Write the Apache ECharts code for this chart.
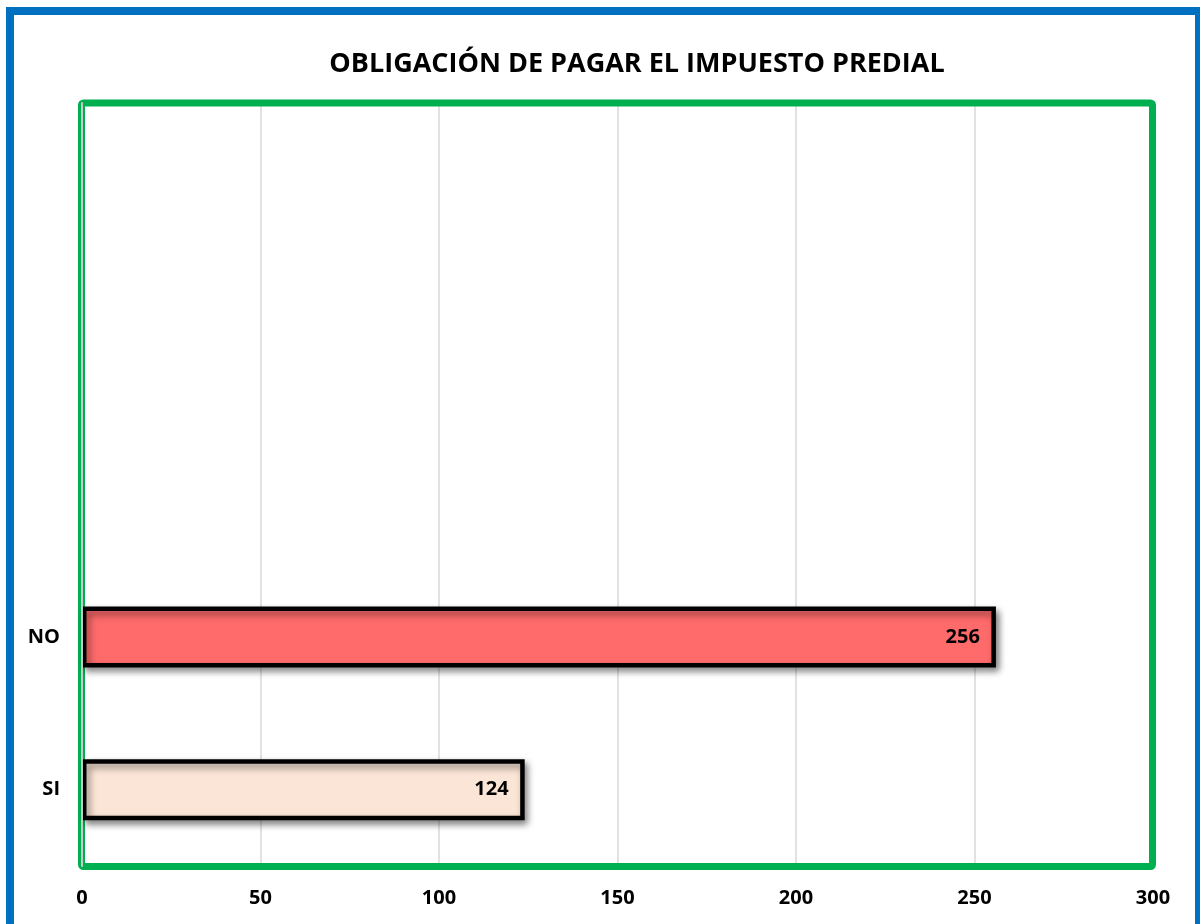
<!DOCTYPE html>
<html>
<head>
<meta charset="utf-8">
<script src="https://cdn.jsdelivr.net/npm/echarts@6/dist/echarts.min.js"></script>
<style>
  html, body { margin: 0; padding: 0; background: #fff; }
  #chart { width: 1200px; height: 924px; }
</style>
</head>
<body>
<div id="chart"></div>
<script>
// datos (de abajo hacia arriba)
const categories = ['SI', 'NO', '', '', ''];
const values = [124, 256, null, null, null];
const xTicks = [0, 50, 100, 150, 200, 250, 300];

const barColors = ['#FBE5D6', '#FF6B6B'];
const fontFamily = '"Open Sans", "Noto Sans", sans-serif';

const myChart = echarts.init(document.getElementById('chart'));

const option = {
    backgroundColor: '#fff',
    title: {
        text: 'OBLIGACIÓN DE PAGAR EL IMPUESTO PREDIAL',
        left: 632,
        textAlign: 'center',
        top: 46,
        textStyle: {
            color: '#000',
            fontSize: 27,
            fontWeight: 'bold',
            fontFamily: fontFamily
        }
    },
    graphic: [
        {
            // marco azul exterior
            type: 'rect',
            silent: true,
            z: 100,
            shape: { x: 10, y: 11, width: 1189, height: 1000 },
            style: { fill: 'none', stroke: '#0070C0', lineWidth: 8 }
        },
        {
            // marco verde del area de trazado
            type: 'rect',
            silent: true,
            z: 1,
            shape: { x: 81.5, y: 103, width: 1071, height: 763.5, r: 2 },
            style: { fill: 'none', stroke: '#00B050', lineWidth: 7 }
        }
    ],
    grid: {
        left: 82,
        right: 47,
        top: 103,
        bottom: 58
    },
    xAxis: {
        type: 'value',
        min: xTicks[0],
        max: xTicks[xTicks.length - 1],
        interval: 50,
        axisLine: { show: false },
        axisTick: { show: false },
        axisLabel: {
            margin: 22,
            color: '#000',
            fontSize: 20,
            fontWeight: 'bold',
            fontFamily: fontFamily
        },
        splitLine: {
            show: true,
            lineStyle: { color: '#D9D9D9', width: 1.5 }
        }
    },
    yAxis: {
        type: 'category',
        data: categories,
        z: 5,
        axisLine: { show: true, lineStyle: { color: '#C8C8C8', width: 2 } },
        axisTick: { show: false },
        axisLabel: {
            margin: 22,
            color: '#000',
            fontSize: 20,
            fontWeight: 'bold',
            fontFamily: fontFamily
        },
        splitLine: { show: false }
    },
    series: [
        {
            type: 'bar',
            data: values,
            barWidth: '40%',
            z: 3,
            itemStyle: {
                color: (p) => barColors[p.dataIndex] || '#ccc',
                borderColor: '#000',
                borderWidth: 4.5,
                shadowColor: 'rgba(0, 0, 0, 0.45)',
                shadowBlur: 7,
                shadowOffsetX: 3,
                shadowOffsetY: 4
            },
            label: {
                show: true,
                position: 'insideRight',
                distance: 16,
                color: '#000',
                fontSize: 20,
                fontWeight: 'bold',
                fontFamily: fontFamily
            }
        }
    ]
};

myChart.setOption(option);
</script>
</body>
</html>
